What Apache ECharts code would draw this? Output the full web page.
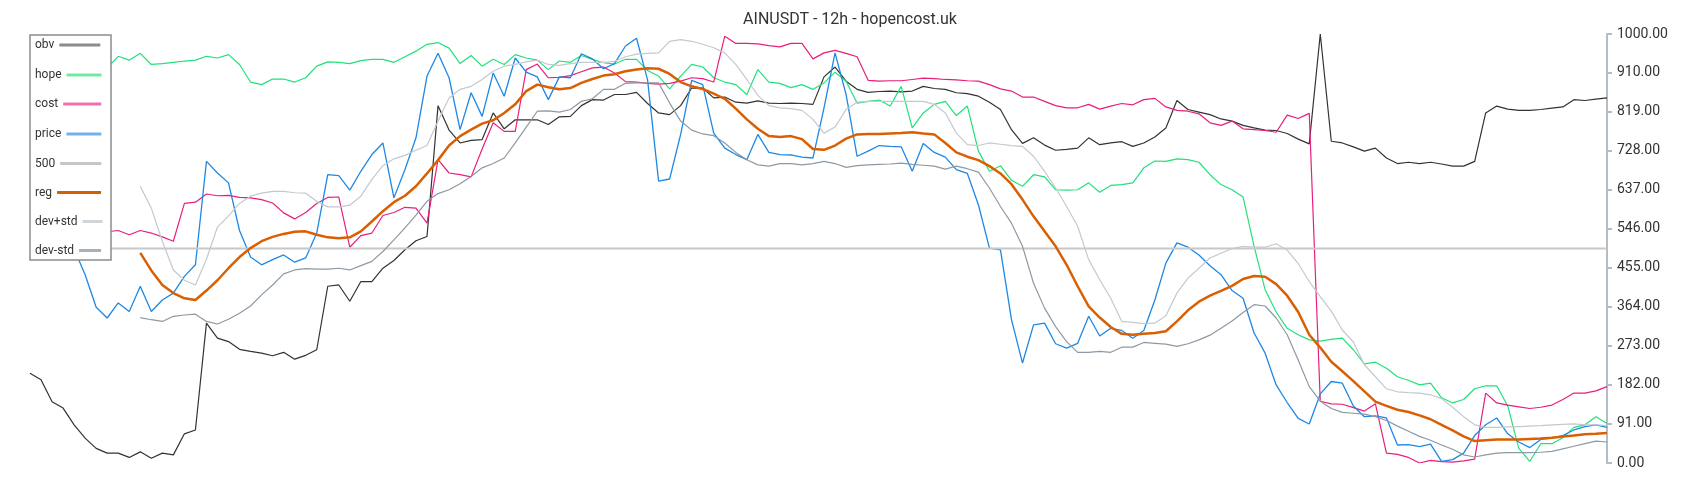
<!DOCTYPE html>
<html>
<head>
<meta charset="utf-8">
<script src="https://cdn.jsdelivr.net/npm/echarts@6/dist/echarts.min.js"></script>
<style>
html,body{margin:0;padding:0;background:#fff;}
#c{width:1700px;height:500px;}
</style>
</head>
<body>
<div id="c"></div>
<script>
// ---- data (one value per half-period step) ----
const obv = [209,194,143,128,89,58,34,23,23,13,26,11,23,19,68,77,326,291,283,265,260,256,
250,258,242,251,264,412,415,377,423,423,454,472,497,518,528,833,776,746,752,754,816,779,800,800,800,
789,807,808,833,847,846,859,859,864,838,816,812,833,874,874,851,853,841,839,844,839,838,839,838,836,
900,923,890,871,864,866,867,865,867,878,873,871,863,861,855,841,824,777,745,758,741,729,731,734,
758,742,746,749,738,746,760,781,845,824,818,812,802,797,787,781,776,775,768,755,744,1000,750,746,
737,727,734,711,698,701,698,701,697,692,692,703,816,832,825,822,822,824,827,830,847,845,848,851];

const hope = [920,925,930,928,935,930,925,921,948,939,955,929,931,934,937,939,948,944,952,929,888,882,
895,895,888,898,925,935,934,931,938,941,941,934,947,960,976,980,967,931,950,925,941,929,952,944,939,
917,937,934,950,941,933,930,941,941,915,902,872,902,929,923,898,888,882,859,917,888,885,875,882,871,
886,911,890,839,843,846,832,878,781,816,836,843,810,832,727,680,693,659,645,672,667,637,636,637,
653,631,647,649,653,688,704,703,709,707,701,672,649,637,620,505,404,352,314,299,
287,284,288,291,264,231,235,221,201,193,182,186,152,140,148,173,180,180,133,34,4,45,45,59,83,89,108,92];

const cost = [540,545,538,542,535,540,538,539,542,532,542,536,527,517,605,608,627,623,624,619,618,614,
606,583,569,584,605,619,620,503,530,536,577,584,596,594,559,707,676,672,667,732,793,773,773,917,930,
898,899,903,912,921,923,909,889,888,885,883,885,890,898,896,888,995,978,978,977,973,970,978,978,942,
956,962,955,947,892,890,891,891,894,897,896,894,893,891,890,882,872,867,853,853,843,833,828,828,
836,825,832,838,835,847,850,830,822,820,814,793,787,797,779,777,775,771,811,803,815,
144,138,137,129,121,138,23,20,13,0,6,3,2,5,9,163,140,135,131,127,130,135,148,163,163,168,178];

const price = [560,545,530,520,499,439,363,338,373,353,412,353,380,396,435,462,703,676,653,542,480,462,
474,485,468,478,536,672,670,636,680,719,746,618,684,758,902,955,898,777,863,808,909,855,944,911,900,
847,900,898,954,942,919,931,972,990,893,657,662,766,892,882,769,734,719,707,766,724,719,718,713,711,
828,956,859,715,727,740,738,737,680,745,724,713,684,675,602,501,497,334,233,322,326,278,268,279,
342,296,314,309,291,309,380,466,513,503,485,460,439,402,384,303,256,182,141,104,
91,161,190,186,133,108,110,105,42,43,38,44,4,8,23,64,89,105,68,49,36,55,58,64,77,85,89,83];

const level500 = 500;

const reg = [null,null,null,null,null,null,null,null,null,null,
490,449,415,396,384,380,402,426,454,480,501,517,
527,534,539,540,532,526,524,526,540,563,587,608,623,645,675,706,740,762,777,791,799,816,836,867,882,
876,871,874,886,895,903,906,913,917,920,919,907,888,878,872,861,849,826,801,779,762,760,762,755,732,
730,740,756,766,767,767,768,769,771,768,766,746,724,714,706,692,675,650,614,575,540,505,462,412,
365,339,317,301,299,301,303,307,330,356,376,390,401,413,429,436,434,417,390,352,
299,269,236,214,191,167,143,133,124,119,111,102,89,76,62,51,53,55,55,55,56,57,59,62,64,67,68,70];

const devPlus = [null,null,null,null,null,null,null,null,null,null,
645,594,517,450,426,415,475,550,576,605,622,629,
633,633,630,629,610,597,597,601,622,661,693,709,717,729,740,797,851,871,878,894,913,925,929,935,939,
929,927,931,934,934,934,936,947,953,955,956,983,987,983,976,968,956,929,894,857,833,828,826,822,801,
769,783,824,841,843,843,843,843,843,843,836,816,769,742,740,746,743,740,738,715,680,641,598,552,
474,427,384,330,328,325,326,343,396,431,454,478,489,500,505,503,503,511,496,465,423,388,354,310,
282,229,201,173,166,164,163,159,150,130,108,89,83,83,84,85,86,87,89,90,91,89,89,87];

const devMinus = [null,null,null,null,null,null,null,null,null,null,
339,334,330,342,345,347,330,324,335,349,366,392,
415,441,450,453,452,452,454,450,460,470,493,520,548,578,610,628,637,651,668,688,698,711,746,783,820,
821,818,824,843,849,871,871,885,886,886,886,839,797,776,767,763,746,724,707,695,692,698,698,695,698,
703,698,689,693,695,696,697,699,696,694,692,685,692,686,678,641,598,559,505,419,361,318,283,258,
258,260,258,270,270,281,279,277,272,278,287,298,314,331,351,369,366,338,299,240,
178,144,127,118,116,114,108,99,86,74,62,53,42,32,19,14,19,23,24,24,24,25,27,33,39,45,51,49];

const yMin = 0, yMax = 1000, yInterval = 91;
const titleText = 'AINUSDT - 12h - hopencost.uk';

// ---- build chart ----
const N = obv.length;
const categories = Array.from({length: N}, (_, i) => String(i));
const line500 = [[categories[0], level500], [categories[N - 1], level500]];

const seriesDefs = [
  {name: 'obv',     data: obv,      color: '#333333', legendColor: '#8c8c8c', width: 1.2, iconW: 41, cy: 45},
  {name: 'hope',    data: hope,     color: '#22e07a', legendColor: '#72e9a4', width: 1.2, iconW: 35, cy: 75},
  {name: 'cost',    data: cost,     color: '#e91e7d', legendColor: '#ee72ad', width: 1.2, iconW: 38, cy: 104},
  {name: 'price',   data: price,    color: '#1e88e5', legendColor: '#73b1ea', width: 1.3, iconW: 35, cy: 134},
  {name: '500',     data: line500,  color: '#c8c8c8', legendColor: '#c6c6c6', width: 2,   iconW: 41, cy: 163.5},
  {name: 'reg',     data: reg,      color: '#d95f02', legendColor: '#d35f00', width: 2.5, iconW: 44, cy: 192.5},
  {name: 'dev+std', data: devPlus,  color: '#c3c9cf', legendColor: '#d0d5da', width: 1.2, iconW: 20, cy: 221.5},
  {name: 'dev-std', data: devMinus, color: '#8d99a4', legendColor: '#a8b1b9', width: 1.2, iconW: 22, cy: 250.5}
];

const chart = echarts.init(document.getElementById('c'), null, {renderer: 'canvas'});

const option = {
  animation: false,
  backgroundColor: '#ffffff',
  textStyle: {fontFamily: 'Roboto'},
  title: {
    text: titleText,
    left: 'center',
    top: 11,
    padding: 0,
    textStyle: {fontSize: 16, fontWeight: 'normal', color: '#333', fontFamily: 'Roboto', lineHeight: 18}
  },
  grid: {left: 30, right: 93, top: 34, bottom: 37, containLabel: false},
  xAxis: {
    type: 'category',
    data: categories,
    boundaryGap: false,
    show: false
  },
  yAxis: {
    type: 'value',
    position: 'right',
    min: yMin,
    max: yMax,
    interval: yInterval,
    axisLine: {show: true, lineStyle: {color: '#b4bcc4', width: 2}},
    axisTick: {show: true, length: 5, lineStyle: {color: '#b4bcc4', width: 2}},
    axisLabel: {
      formatter: v => v.toFixed(2),
      color: '#333',
      fontSize: 14,
      fontFamily: 'Roboto',
      margin: 10
    },
    splitLine: {show: false}
  },
  legend: seriesDefs.map(d => ({
    data: [{name: d.name, itemStyle: {color: d.legendColor, borderWidth: 0}}],
    orient: 'vertical',
    left: 35,
    top: d.cy - 7,
    padding: 0,
    icon: 'rect',
    itemWidth: d.iconW,
    itemHeight: 3,
    align: 'right',
    selectedMode: false,
    z: 20,
    textStyle: {fontSize: 12, color: '#333', fontFamily: 'Roboto', lineHeight: 14}
  })),
  graphic: {
    elements: [{
      type: 'rect',
      z: 10,
      shape: {x: 30, y: 35, width: 81, height: 225},
      style: {fill: '#ffffff', stroke: '#8c8c8c', lineWidth: 1.5}
    }]
  },
  series: seriesDefs.map(d => ({
    name: d.name,
    type: 'line',
    data: d.data,
    symbol: 'none',
    showSymbol: false,
    smooth: false,
    connectNulls: false,
    silent: true,
    lineStyle: {color: d.color, width: d.width},
    itemStyle: {color: d.color}
  }))
};

chart.setOption(option);
</script>
</body>
</html>
